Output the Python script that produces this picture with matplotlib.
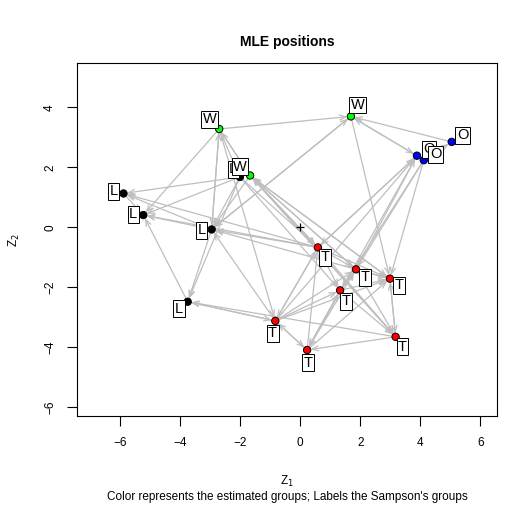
import matplotlib
matplotlib.use("Agg")
import matplotlib.pyplot as plt

plt.rcParams['font.family'] = ['Liberation Sans', 'DejaVu Sans']

# latent positions (MLE) of the 18 monks
nodes = ["W1", "W2", "W3", "L1", "L2", "L3", "L4", "L5",
         "O1", "O2", "O3", "T1", "T2", "T3", "T4", "T5", "T6", "T7"]
z1 = [-2.70, 1.69, -1.67, -2.01, -5.89, -5.23, -2.95, -3.75,
      3.89, 4.12, 5.05, 0.59, 1.86, 2.99, 1.33, -0.83, 0.23, 3.18]
z2 = [3.28, 3.70, 1.73, 1.68, 1.13, 0.41, -0.07, -2.48,
      2.39, 2.24, 2.85, -0.67, -1.40, -1.71, -2.10, -3.12, -4.09, -3.65]

# estimated group -> colour, Sampson group -> label
est_col = ["#00FF00", "#00FF00", "#00FF00", "black", "black", "black", "black", "black",
           "blue", "blue", "blue", "red", "red", "red", "red", "red", "red", "red"]
sampson = ["W", "W", "W", "L", "L", "L", "L", "L",
           "O", "O", "O", "T", "T", "T", "T", "T", "T", "T"]
lab_x = [-3.02, 1.91, -2.01, -2.23, -6.22, -5.57, -3.29, -4.04,
         4.29, 4.51, 5.41, 0.83, 2.16, 3.30, 1.52, -0.92, 0.26, 3.41]
lab_y = [3.60, 4.08, 2.02, 1.93, 1.21, 0.43, -0.10, -2.71,
         2.61, 2.44, 3.07, -0.99, -1.67, -1.93, -2.46, -3.53, -4.51, -3.98]

# liking ties (sender, receiver)
edges = [
    ("W1", "W2"), ("W2", "O1"), ("O1", "W2"), ("O3", "W2"), ("O2", "O3"),
    ("W2", "T3"), ("W2", "L4"), ("L4", "W2"), ("W1", "L3"), ("W1", "L4"),
    ("L4", "W1"), ("W1", "W3"), ("W3", "W1"), ("L1", "W1"), ("W1", "T5"),
    ("L1", "L2"), ("L1", "L3"), ("L2", "L3"), ("L4", "L3"), ("L4", "L2"),
    ("L5", "L3"), ("L4", "L5"), ("L1", "L5"), ("L1", "L4"), ("W3", "L4"),
    ("T1", "L2"), ("T1", "L4"), ("T3", "L4"), ("T5", "L4"), ("T1", "L3"),
    ("L5", "T5"), ("T5", "L5"), ("T7", "L5"),
    ("T1", "T5"), ("T5", "T1"), ("T5", "T2"), ("T5", "T4"), ("T5", "T3"),
    ("T5", "T6"), ("T6", "T5"), ("T6", "T1"), ("T6", "T4"), ("T4", "T6"),
    ("T6", "T2"), ("T6", "T3"), ("T7", "T6"), ("T1", "T2"), ("T1", "T3"),
    ("T1", "T4"), ("T1", "T7"), ("T2", "T3"), ("T3", "T2"), ("T2", "T4"),
    ("T4", "T2"), ("T2", "T7"), ("T3", "T7"), ("T7", "T3"), ("T4", "T3"),
    ("T4", "T7"),
    ("W3", "T1"), ("T1", "W3"), ("T2", "W3"), ("W3", "T2"), ("W3", "T3"),
    ("T3", "W3"), ("W3", "T7"), ("T7", "W3"), ("L1", "T4"), ("L1", "T1"),
    ("T1", "O1"), ("O1", "T1"), ("T5", "O1"), ("O2", "T2"), ("O2", "T4"),
    ("O1", "T6"), ("O2", "T3"), ("T2", "O1"),
]

W, H = 514, 509
fig = plt.figure(figsize=(W / 100, H / 100), dpi=100)
ax = fig.add_axes([77 / W, 1 - 416 / H, 420 / W, 353 / H])
ax.set_xlim(-7.44, 6.56)
ax.set_ylim(-6.29, 5.48)

idx = {n: i for i, n in enumerate(nodes)}
for a, b in edges:
    i, j = idx[a], idx[b]
    ax.annotate("", xy=(z1[j], z2[j]), xytext=(z1[i], z2[i]),
                arrowprops=dict(arrowstyle="->,head_length=0.45,head_width=0.18",
                                color="#BEBEBE", lw=0.9, shrinkA=0, shrinkB=2.5),
                zorder=1)

ax.scatter(z1, z2, s=28, c=est_col, edgecolors="black", linewidths=0.7, zorder=2)
ax.plot([0], [0], marker="+", color="black", markersize=6, mew=0.9, zorder=2)

for k, (x, y, t) in enumerate(zip(lab_x, lab_y, sampson)):
    # the W label sits on top of the hidden L label next to it
    zo = 4 if nodes[k] == "W3" else 3
    ax.text(x, y, t, fontsize=10.5, ha="center", va="center", zorder=zo,
            bbox=dict(boxstyle="square,pad=0.1", fc="white", ec="black", lw=0.7))

ax.set_xticks([-6, -4, -2, 0, 2, 4, 6])
ax.set_yticks([-6, -4, -2, 0, 2, 4])
ax.set_yticklabels(["\u22126", "\u22124", "\u22122", "0", "2", "4"],
                   rotation=90, va="center")
ax.tick_params(labelsize=8.5, length=7, width=0.8, pad=8)
for s in ax.spines.values():
    s.set_linewidth(0.8)

fig.text(287 / W, 1 - 42 / H, "MLE positions", ha="center", va="center",
         fontsize=10, fontweight="bold")
fig.text(287 / W, 1 - 481 / H, "Z$_1$", ha="center", va="center", fontsize=8.5)
fig.text(14 / W, 1 - 240 / H, "Z$_2$", ha="center", va="center", fontsize=8.5,
         rotation=90)
fig.text(287 / W, 1 - 497 / H,
         "Color represents the estimated groups; Labels the Sampson's groups",
         ha="center", va="center", fontsize=8.5)

fig.savefig("out.png", dpi=100)
